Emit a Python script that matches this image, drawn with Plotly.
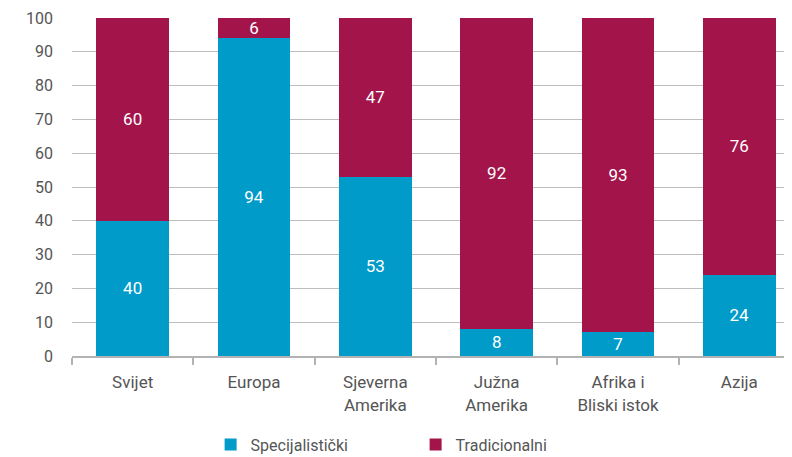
import plotly.graph_objects as go

categories = ["Svijet", "Europa", "Sjeverna<br>Amerika", "Južna<br>Amerika", "Afrika i<br>Bliski istok", "Azija"]
specijalisticki = [40, 94, 53, 8, 7, 24]
tradicionalni = [60, 6, 47, 92, 93, 76]
y_ticks = [0, 10, 20, 30, 40, 50, 60, 70, 80, 90, 100]

BLUE = "#009BC9"
RED = "#A3154A"
FONT = "Roboto"

fig = go.Figure()
fig.add_trace(go.Bar(x=categories, y=specijalisticki, name="Specijalistički",
                     marker=dict(color=BLUE, line=dict(width=0)),
                     text=specijalisticki, textposition="inside", insidetextanchor="middle",
                     textangle=0, constraintext="none",
                     textfont=dict(color="white", size=17, family=FONT)))
fig.add_trace(go.Bar(x=categories, y=tradicionalni, name="Tradicionalni",
                     marker=dict(color=RED, line=dict(width=0)),
                     text=tradicionalni, textposition="inside", insidetextanchor="middle",
                     textangle=0, constraintext="none",
                     textfont=dict(color="white", size=17, family=FONT)))

fig.update_layout(
    barmode="stack",
    bargap=0.4,
    width=792, height=457,
    margin=dict(l=64, r=0, t=10, b=109, autoexpand=False),
    plot_bgcolor="white", paper_bgcolor="white",
    font=dict(family=FONT, color="#555555", size=16),
    uniformtext=dict(minsize=10, mode="show"),
    showlegend=True,
    legend=dict(orientation="h", x=0.472, xanchor="center", y=-0.212, yanchor="top",
                font=dict(size=16, color="#555555"), entrywidth=160, traceorder="normal"),
    xaxis=dict(showline=True, linecolor="#B3B3B3", linewidth=2, ticks="outside",
               tickson="boundaries", ticklen=7, tickwidth=2, tickcolor="#B3B3B3",
               automargin=False, ticklabelstandoff=10, tickfont=dict(size=17, color="#555555")),
    yaxis=dict(range=[0, 100], tickvals=y_ticks, showgrid=True, gridcolor="#BDBDBD",
               gridwidth=1, zeroline=False, ticks="", ticklabelstandoff=18,
               automargin=False, tickfont=dict(size=16, color="#555555")),
)

fig.write_html("out.html")
